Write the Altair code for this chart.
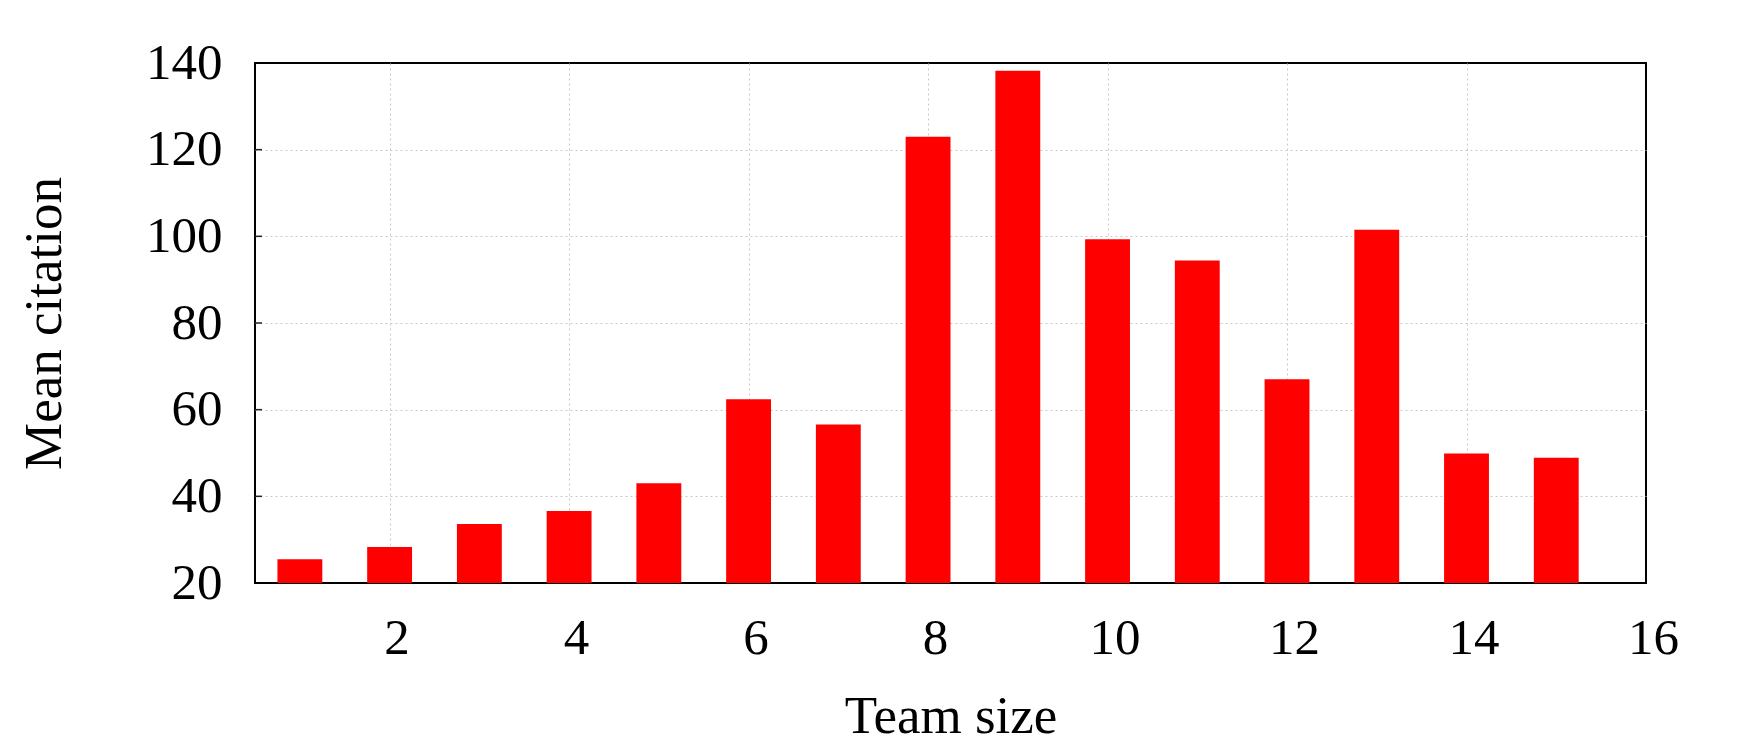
import altair as alt
import pandas as pd

team_size = list(range(1, 16))
mean_citation = [25.5, 28.3, 33.6, 36.6, 43.0, 62.4, 56.6, 123.0, 138.2,
                 99.3, 94.4, 67.0, 101.5, 49.9, 48.9]
x_tick_values = [2, 4, 6, 8, 10, 12, 14, 16]
y_tick_values = [20, 40, 60, 80, 100, 120, 140]
inner_tick_values = [40, 60, 80, 100, 120]

df = pd.DataFrame({"team": team_size, "cit": mean_citation})
tick_df = pd.DataFrame({"cit": inner_tick_values})

FONT = "Liberation Serif"
FS = 51
TFS = 53

x_scale = alt.Scale(domain=[0.5, 16], nice=False, zero=False)
y_scale = alt.Scale(domain=[20, 140], nice=False, zero=False)

x_axis = alt.Axis(
    values=x_tick_values, grid=True, gridColor="#c8c8c8", gridDash=[2, 3], gridWidth=1,
    gridOpacity={"condition": {"test": "datum.value >= 16", "value": 0}, "value": 1},
    ticks=False, tickSize=0, domain=False,
    labelFont=FONT, labelFontSize=FS, labelColor="black", labelBaseline="alphabetic",
    labelPadding=70, labelOffset=7, labelFlush=False, labelOverlap=False,
    title="Team size", titleFont=FONT, titleFontSize=TFS, titleFontWeight="normal",
    titleColor="black", titleBaseline="alphabetic", titleY=149,
)
y_axis = alt.Axis(
    values=y_tick_values, grid=True, gridColor="#c8c8c8", gridDash=[2, 3], gridWidth=1,
    gridOpacity={"condition": {"test": "datum.value >= 140 || datum.value <= 20", "value": 0}, "value": 1},
    ticks=False, tickSize=0, domain=False,
    labelFont=FONT, labelFontSize=FS, labelColor="black", labelBaseline="middle",
    labelPadding=33, labelFlush=False, labelOverlap=False,
    title="Mean citation", titleFont=FONT, titleFontSize=TFS, titleFontWeight="normal",
    titleColor="black", titleAngle=270, titleBaseline="alphabetic", titleAlign="center",
    titleX=-195, titleY=260,
)

bars = alt.Chart(df).transform_calculate(
    x0="datum.team - 0.25", x1="datum.team + 0.25"
).mark_bar(color="#ff0000").encode(
    x=alt.X("x0:Q", scale=x_scale, axis=x_axis),
    x2="x1:Q",
    y=alt.Y("cit:Q", scale=y_scale, axis=y_axis),
    y2=alt.datum(20),
)

ticks = alt.Chart(tick_df).mark_rule(color="#222222", strokeWidth=1.5).encode(
    y=alt.Y("cit:Q", scale=y_scale),
    x=alt.value(0),
    x2=alt.value(7),
)

chart = alt.layer(bars, ticks).properties(
    width=1391, height=520,
    autosize=alt.AutoSizeParams(type="none"),
    padding={"left": 255, "top": 63, "right": 94, "bottom": 167},
    background="white",
).configure_view(stroke="black", strokeWidth=2)

chart.save("out.html", embed_options={"renderer": "svg", "actions": False})
